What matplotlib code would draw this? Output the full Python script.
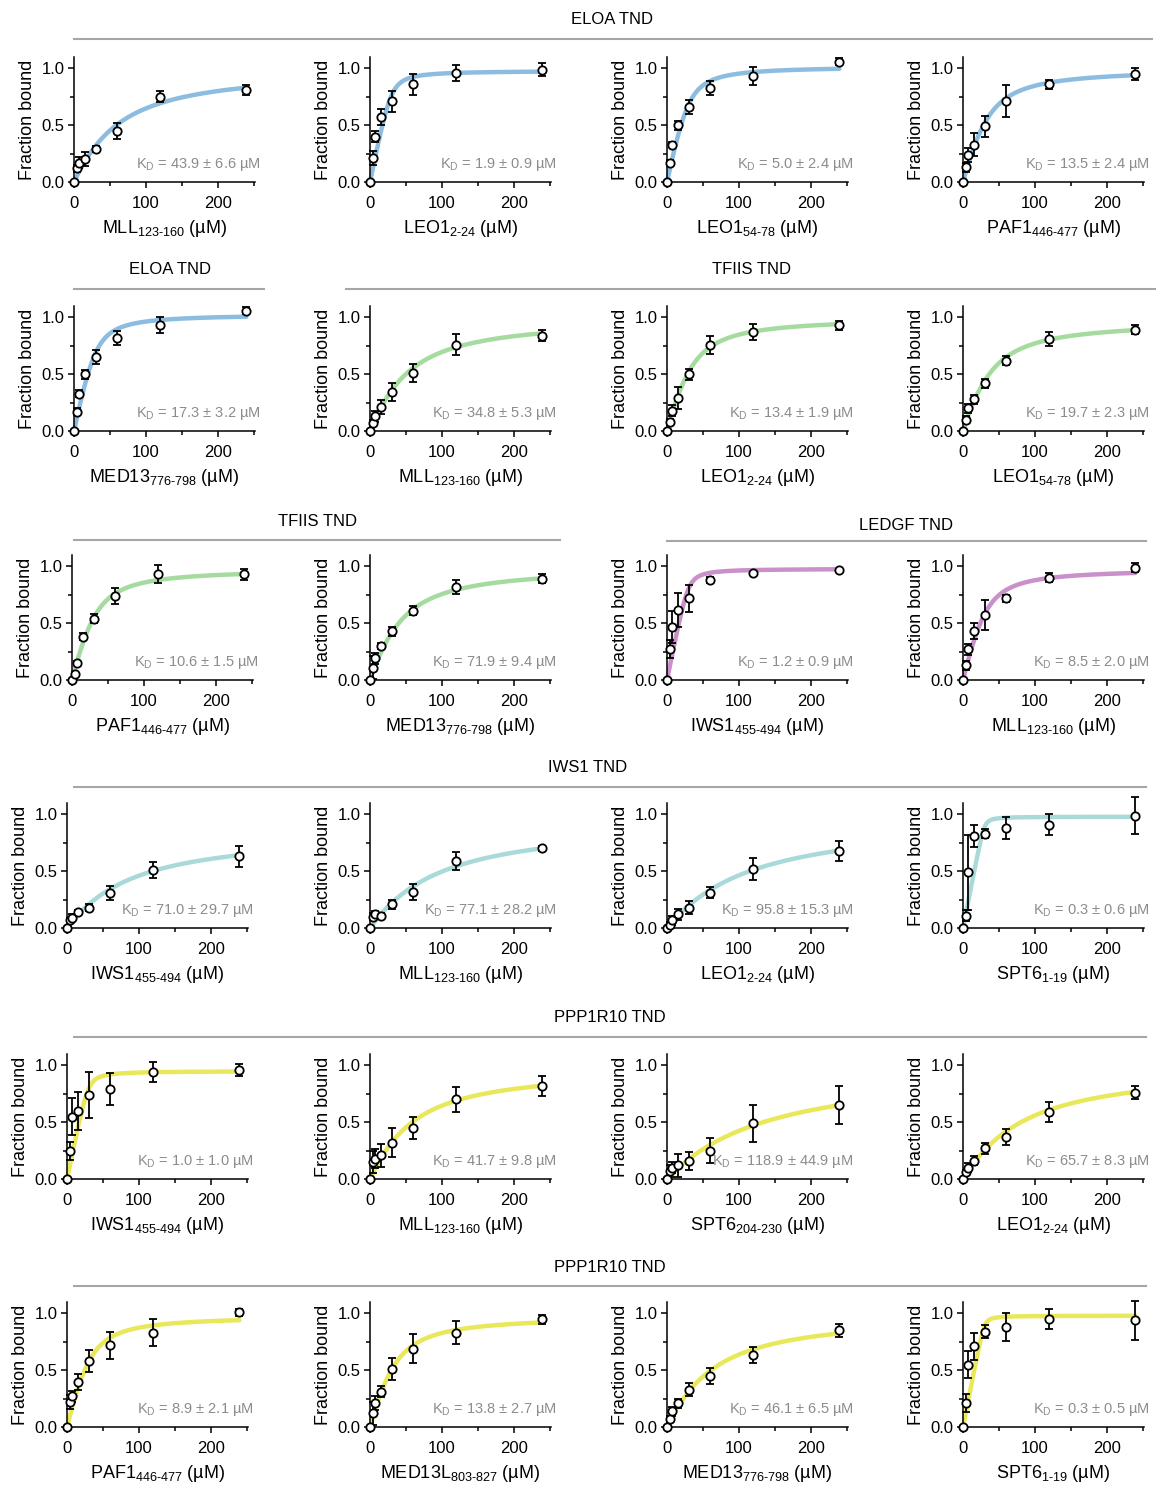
import numpy as np
import matplotlib
matplotlib.use('Agg')
import matplotlib.pyplot as plt
from matplotlib.lines import Line2D
from matplotlib.ticker import FixedLocator

plt.rcParams['font.family'] = ['Liberation Sans', 'DejaVu Sans']
plt.rcParams['mathtext.fontset'] = 'custom'
plt.rcParams['mathtext.rm'] = 'Liberation Sans'
plt.rcParams['mathtext.it'] = 'Liberation Sans'
plt.rcParams['mathtext.bf'] = 'Liberation Sans'

# titration concentrations (uM)
conc = [0, 3.75, 7.5, 15, 30, 60, 120, 240]

peptides = ['MLL', 'LEO1', 'LEO1', 'PAF1',
            'MED13', 'MLL', 'LEO1', 'LEO1',
            'PAF1', 'MED13', 'IWS1', 'MLL',
            'IWS1', 'MLL', 'LEO1', 'SPT6',
            'IWS1', 'MLL', 'SPT6', 'LEO1',
            'PAF1', 'MED13L', 'MED13', 'SPT6']
residues = ['123-160', '2-24', '54-78', '446-477',
            '776-798', '123-160', '2-24', '54-78',
            '446-477', '776-798', '455-494', '123-160',
            '455-494', '123-160', '2-24', '1-19',
            '455-494', '123-160', '204-230', '2-24',
            '446-477', '803-827', '776-798', '1-19']
tnd = ['ELOA'] * 5 + ['TFIIS'] * 5 + ['LEDGF'] * 2 + ['IWS1'] * 4 + ['PPP1R10'] * 8
kd_labels = ['43.9 ± 6.6', '1.9 ± 0.9', '5.0 ± 2.4', '13.5 ± 2.4',
             '17.3 ± 3.2', '34.8 ± 5.3', '13.4 ± 1.9', '19.7 ± 2.3',
             '10.6 ± 1.5', '71.9 ± 9.4', '1.2 ± 0.9', '8.5 ± 2.0',
             '71.0 ± 29.7', '77.1 ± 28.2', '95.8 ± 15.3', '0.3 ± 0.6',
             '1.0 ± 1.0', '41.7 ± 9.8', '118.9 ± 44.9', '65.7 ± 8.3',
             '8.9 ± 2.1', '13.8 ± 2.7', '46.1 ± 6.5', '0.3 ± 0.5']

frac = [
    [0, 0.12, 0.17, 0.20, 0.29, 0.45, 0.75, 0.81],
    [0, 0.21, 0.40, 0.57, 0.71, 0.86, 0.96, 0.99],
    [0, 0.17, 0.33, 0.50, 0.66, 0.83, 0.93, 1.06],
    [0, 0.13, 0.24, 0.33, 0.49, 0.71, 0.86, 0.95],
    [0, 0.17, 0.33, 0.50, 0.65, 0.82, 0.93, 1.06],
    [0, 0.07, 0.13, 0.21, 0.34, 0.51, 0.76, 0.84],
    [0, 0.08, 0.18, 0.29, 0.50, 0.76, 0.87, 0.93],
    [0, 0.10, 0.20, 0.28, 0.42, 0.62, 0.81, 0.89],
    [0, 0.05, 0.15, 0.38, 0.54, 0.74, 0.93, 0.93],
    [0, 0.11, 0.19, 0.30, 0.43, 0.61, 0.82, 0.89],
    [0, 0.27, 0.47, 0.62, 0.72, 0.88, 0.94, 0.97],
    [0, 0.13, 0.27, 0.43, 0.57, 0.72, 0.90, 0.99],
    [0, 0.07, 0.09, 0.14, 0.18, 0.31, 0.51, 0.63],
    [0, 0.10, 0.12, 0.11, 0.21, 0.32, 0.59, 0.70],
    [0, 0.03, 0.07, 0.12, 0.18, 0.31, 0.52, 0.68],
    [0, 0.11, 0.49, 0.81, 0.83, 0.88, 0.91, 0.99],
    [0, 0.25, 0.55, 0.60, 0.74, 0.79, 0.94, 0.96],
    [0, 0.15, 0.18, 0.21, 0.32, 0.45, 0.70, 0.82],
    [0, 0.07, 0.10, 0.12, 0.16, 0.25, 0.49, 0.65],
    [0, 0.06, 0.10, 0.16, 0.27, 0.37, 0.59, 0.76],
    [0, 0.22, 0.27, 0.40, 0.58, 0.72, 0.83, 1.01],
    [0, 0.12, 0.21, 0.31, 0.51, 0.69, 0.83, 0.95],
    [0, 0.07, 0.14, 0.21, 0.33, 0.45, 0.63, 0.85],
    [0, 0.21, 0.55, 0.71, 0.84, 0.88, 0.95, 0.94],
]
err = [
    [0, 0.03, 0.05, 0.06, 0.03, 0.07, 0.05, 0.04],
    [0, 0.06, 0.05, 0.07, 0.09, 0.09, 0.07, 0.06],
    [0, 0.02, 0.02, 0.04, 0.06, 0.06, 0.08, 0.03],
    [0, 0.04, 0.06, 0.10, 0.09, 0.14, 0.04, 0.05],
    [0, 0.03, 0.03, 0.04, 0.06, 0.06, 0.07, 0.03],
    [0, 0.03, 0.05, 0.06, 0.08, 0.08, 0.09, 0.05],
    [0, 0.03, 0.05, 0.10, 0.05, 0.08, 0.07, 0.04],
    [0, 0.03, 0.04, 0.04, 0.04, 0.04, 0.06, 0.04],
    [0, 0.02, 0.02, 0.03, 0.04, 0.07, 0.08, 0.05],
    [0, 0.10, 0.05, 0.03, 0.04, 0.04, 0.06, 0.04],
    [0, 0.08, 0.14, 0.15, 0.12, 0.03, 0.01, 0.01],
    [0, 0.04, 0.05, 0.07, 0.13, 0.03, 0.04, 0.04],
    [0, 0.02, 0.03, 0.02, 0.03, 0.06, 0.07, 0.09],
    [0, 0.03, 0.03, 0.02, 0.04, 0.07, 0.08, 0.02],
    [0, 0.02, 0.04, 0.05, 0.06, 0.05, 0.10, 0.09],
    [0, 0.05, 0.33, 0.10, 0.04, 0.10, 0.09, 0.16],
    [0, 0.08, 0.16, 0.17, 0.20, 0.14, 0.09, 0.05],
    [0, 0.10, 0.08, 0.10, 0.13, 0.10, 0.11, 0.09],
    [0, 0.05, 0.05, 0.10, 0.08, 0.11, 0.16, 0.17],
    [0, 0.02, 0.04, 0.04, 0.05, 0.07, 0.09, 0.06],
    [0, 0.06, 0.05, 0.07, 0.10, 0.12, 0.12, 0.03],
    [0, 0.10, 0.06, 0.05, 0.10, 0.13, 0.10, 0.04],
    [0, 0.03, 0.04, 0.04, 0.06, 0.07, 0.07, 0.06],
    [0, 0.08, 0.12, 0.12, 0.06, 0.12, 0.09, 0.17],
]

# fitted curve parameters (quadratic binding, probe ~30 uM)
fit_kd = [43.9, 1.9, 5.0, 13.5, 5.0, 34.8, 13.4, 19.7, 10.6, 25.0, 1.2, 8.5,
          71.0, 77.1, 95.8, 0.3, 1.0, 41.7, 118.9, 65.7, 8.9, 13.8, 46.1, 0.3]
fit_bmax = [1.0, 0.98, 1.02, 1.0, 1.03, 1.0, 1.0, 0.97, 0.98, 1.0, 0.98, 0.98,
            0.85, 0.95, 0.98, 0.98, 0.95, 0.98, 1.0, 1.0, 0.98, 0.98, 1.0, 0.98]
probe = 30.0

tnd_colors = {'ELOA': '#8cbde0', 'TFIIS': '#a6dba0', 'LEDGF': '#c990c9',
              'IWS1': '#aad9d9', 'PPP1R10': '#e8e85a'}

W, H = 1156, 1488
fig = plt.figure(figsize=(W / 100, H / 100), dpi=100)

row_bottom = [182, 431, 680, 928, 1179, 1427]
col_left = [[74, 370, 667, 963], [74, 370, 667, 963], [72, 370, 667, 963],
            [67, 370, 667, 963], [67, 370, 667, 963], [67, 370, 667, 963]]
ax_w, ax_h = 181, 125

# group headers: text, text x, text y, line x0, line x1, line y
headers = [('ELOA TND', 612, 20, 74, 1152, 39),
           ('ELOA TND', 170, 270, 74, 264, 289),
           ('TFIIS TND', 752, 270, 346, 1156, 289),
           ('TFIIS TND', 317, 521, 74, 560, 540),
           ('LEDGF TND', 906, 525, 667, 1146, 541),
           ('IWS1 TND', 588, 768, 74, 1146, 787),
           ('PPP1R10 TND', 610, 1017, 74, 1146, 1037),
           ('PPP1R10 TND', 610, 1267, 74, 1146, 1286)]

for txt, tx, ty, x0, x1, ly in headers:
    fig.text(tx / W, 1 - ty / H, txt, ha='center', va='center', fontsize=12)
    fig.add_artist(Line2D([x0 / W, x1 / W], [1 - ly / H, 1 - ly / H],
                          color='#a6a6a6', lw=1.5, transform=fig.transFigure))

xs = np.linspace(0, 240, 400)
for i in range(24):
    r, c = divmod(i, 4)
    left = col_left[r][c]
    ax = fig.add_axes([left / W, 1 - row_bottom[r] / H, ax_w / W, ax_h / H])
    col = tnd_colors[tnd[i]]

    s = probe + xs + fit_kd[i]
    curve = fit_bmax[i] * (s - np.sqrt(s ** 2 - 4 * probe * xs)) / (2 * probe)
    ax.plot(xs, curve, color=col, lw=3.2, solid_capstyle='round', zorder=2, clip_on=False)

    ax.errorbar(conc, frac[i], yerr=err[i], fmt='o', ms=6, mfc='white', mec='black',
                mew=1.3, ecolor='black', elinewidth=1.3, capsize=3, capthick=1.3,
                zorder=3, clip_on=False)

    ax.set_xlim(0, 252)
    ax.set_ylim(0, 1.1)
    ax.set_xticks([0, 100, 200])
    ax.set_yticks([0, 0.5, 1.0])
    ax.set_yticklabels(['0.0', '0.5', '1.0'])
    ax.xaxis.set_minor_locator(FixedLocator([50, 150, 250]))
    ax.yaxis.set_minor_locator(FixedLocator([0.25, 0.75]))
    ax.tick_params(which='major', length=4, width=1.1, labelsize=12)
    ax.tick_params(axis='x', which='major', pad=6)
    ax.tick_params(axis='y', which='major', pad=3)
    ax.tick_params(which='minor', length=3, width=1.1)
    for sp in ['top', 'right']:
        ax.spines[sp].set_visible(False)
    for sp in ['left', 'bottom']:
        ax.spines[sp].set_linewidth(1.1)

    ax.set_ylabel('Fraction bound', fontsize=13, labelpad=4)
    ax.set_xlabel(peptides[i] + r'$_{\text{' + residues[i] + r'}}$ (µM)', fontsize=13, labelpad=5)
    ax.text(1.03, 0.14, r'K$_{\text{D}}$ = ' + kd_labels[i] + ' µM', transform=ax.transAxes,
            ha='right', va='center', fontsize=10.5, color='#8c8c8c')

fig.savefig('out.png', dpi=100)
